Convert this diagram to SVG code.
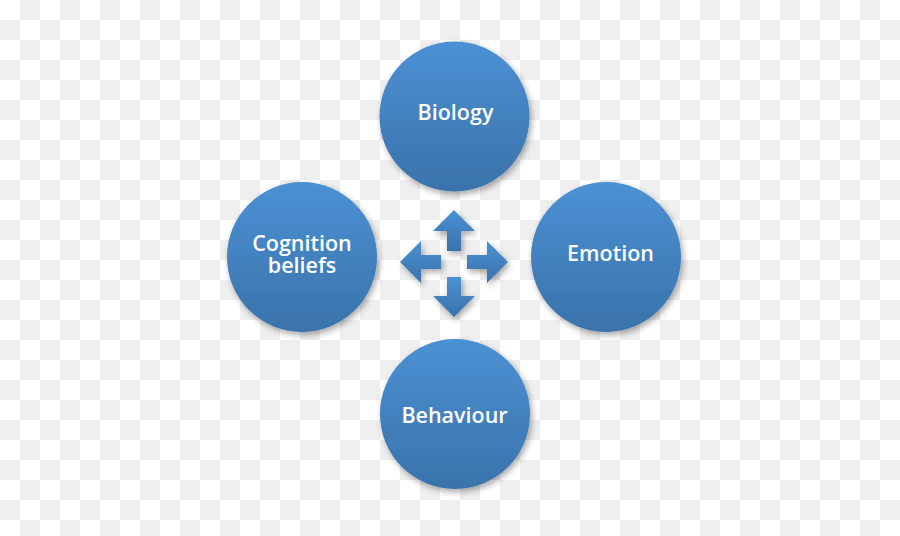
<svg xmlns="http://www.w3.org/2000/svg" width="900" height="536" viewBox="0 0 900 536">
  <defs>
    <pattern id="checker" x="0" y="0" width="40" height="40" patternUnits="userSpaceOnUse">
      <rect width="40" height="40" fill="#ffffff"/>
      <rect x="20" y="0" width="20" height="20" fill="#efefef"/>
      <rect x="0" y="20" width="20" height="20" fill="#efefef"/>
    </pattern>
    <linearGradient id="blue" x1="0" y1="0" x2="0" y2="1">
      <stop offset="0" stop-color="#4b91d4"/>
      <stop offset="1" stop-color="#3a72aa"/>
    </linearGradient>
    <filter id="shadow" x="-20%" y="-20%" width="140%" height="140%">
      <feDropShadow dx="2" dy="3" stdDeviation="3" flood-color="#000000" flood-opacity="0.35"/>
    </filter>
    <style>
      .node { fill: url(#blue); filter: url(#shadow); }
      .arrow { fill: url(#blue); filter: url(#shadow); }
      .label { font-family: "Open Sans", "Liberation Sans", sans-serif; font-weight: 600; font-size: 21.5px; fill: #ffffff; text-anchor: middle; }
    </style>
  </defs>
  <rect width="900" height="536" fill="url(#checker)"/>

  <g id="connectors">
    <polygon class="arrow" points="454,210 475,231 461,231 461,251 447,251 447,231 433,231"/>
    <polygon class="arrow" points="454,317 475,296 461,296 461,277 447,277 447,296 433,296"/>
    <polygon class="arrow" points="400,262 421,241 421,255 441,255 441,269 421,269 421,283"/>
    <polygon class="arrow" points="508,262 487,241 487,255 467,255 467,269 487,269 487,283"/>
  </g>

  <g id="biology">
    <circle class="node" cx="454.5" cy="116.5" r="75"/>
    <text class="label" x="455.5" y="120">Biology</text>
  </g>
  <g id="emotion">
    <circle class="node" cx="606" cy="257" r="75"/>
    <text class="label" x="610.5" y="261">Emotion</text>
  </g>
  <g id="cognition">
    <circle class="node" cx="302" cy="257" r="75"/>
    <text class="label"><tspan x="302" y="251">Cognition</tspan><tspan x="302" y="273">beliefs</tspan></text>
  </g>
  <g id="behaviour">
    <circle class="node" cx="455" cy="414" r="75"/>
    <text class="label" x="454.5" y="423">Behaviour</text>
  </g>
</svg>
